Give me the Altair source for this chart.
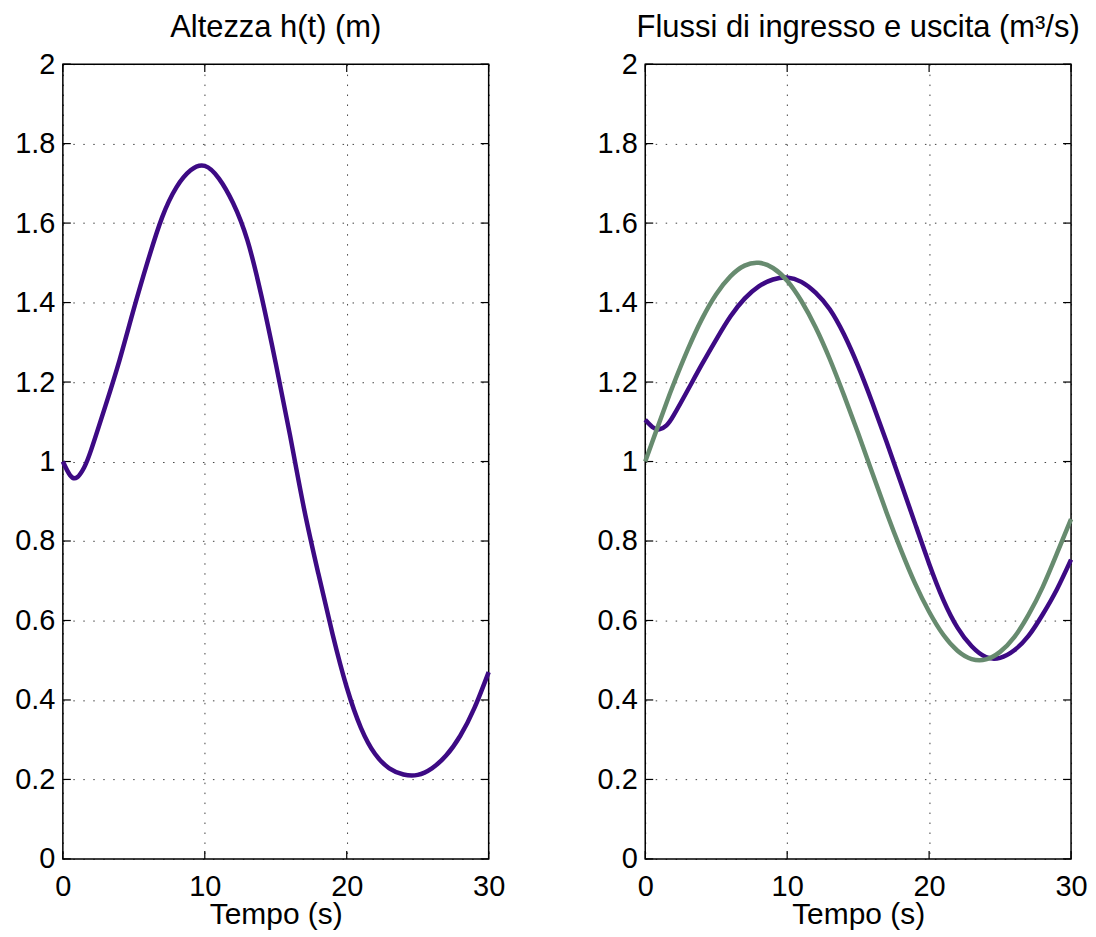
import altair as alt
import pandas as pd

# time samples (s)
t = [0, 0.5, 1, 1.5, 2, 3, 4, 5, 6, 7, 8, 9, 10, 11, 12, 13, 14, 15, 16,
     17, 18, 19, 20, 21, 22, 23, 24, 25, 26, 27, 28, 29, 30]

# height h(t) (m)
h = [1.0, 0.966, 0.96, 0.985, 1.03, 1.14, 1.256, 1.384, 1.506, 1.615, 1.69,
     1.733, 1.744, 1.712, 1.65, 1.557, 1.415, 1.247, 1.067, 0.88, 0.718, 0.566,
     0.432, 0.33, 0.264, 0.228, 0.2125, 0.2115, 0.228, 0.26, 0.31, 0.38, 0.47]

# outflow (m^3/s)
q_out = [1.105, 1.087, 1.081, 1.091, 1.116, 1.18, 1.245, 1.307, 1.365, 1.41,
         1.441, 1.458, 1.463, 1.452, 1.425, 1.383, 1.32, 1.24, 1.148, 1.05,
         0.948, 0.845, 0.743, 0.652, 0.582, 0.535, 0.508, 0.506, 0.525, 0.561,
         0.615, 0.678, 0.753]

# inflow (m^3/s)
q_in = [1.0, 1.05, 1.099, 1.148, 1.195, 1.282, 1.359, 1.421, 1.466, 1.493,
        1.5, 1.487, 1.455, 1.404, 1.338, 1.258, 1.167, 1.071, 0.971, 0.872,
        0.779, 0.694, 0.622, 0.564, 0.524, 0.503, 0.502, 0.521, 0.558, 0.614,
        0.684, 0.768, 0.855]

x_ticks = [0, 10, 20, 30]
y_ticks = [0, 0.2, 0.4, 0.6, 0.8, 1.0, 1.2, 1.4, 1.6, 1.8, 2.0]

title_left = "Altezza h(t) (m)"
title_right = "Flussi di ingresso e uscita (m³/s)"
x_title = "Tempo (s)"

W, H = 427, 797
TL = 8
PURPLE = "#3d0a84"
GREEN = "#678b6f"
FONT = "Liberation Sans"

df_h = pd.DataFrame({"t": t, "v": h})
df_out = pd.DataFrame({"t": t, "v": q_out})
df_in = pd.DataFrame({"t": t, "v": q_in})
df_xt = pd.DataFrame({"t": x_ticks})
df_yt = pd.DataFrame({"v": y_ticks})

xscale = alt.Scale(domain=[0, 30], nice=False, zero=False)
yscale = alt.Scale(domain=[0, 2], nice=False)

xaxis = alt.Axis(values=x_ticks, title=x_title, grid=True, ticks=False, tickSize=0,
                 domain=False, labelFlush=False, labelOverlap=False,
                 labelBaseline="alphabetic", labelPadding=37,
                 titleBaseline="alphabetic", titleY=65, titleFontSize=30,
                 titleFontWeight="normal", format="d")
yaxis = alt.Axis(values=y_ticks, title="", grid=True, ticks=False, tickSize=0,
                 domain=False, labelFlush=False, labelOverlap=False,
                 labelPadding=8, format=".1~f")

X = alt.X("t:Q", scale=xscale, axis=xaxis)
Y = alt.Y("v:Q", scale=yscale, axis=yaxis)


def panel(lines, title):
    layers = []
    for df, color in lines:
        layers.append(
            alt.Chart(df).mark_line(color=color, strokeWidth=4.5, interpolate="natural").encode(
                x=X, y=Y)
        )
    tick_left = alt.Chart(df_yt).mark_rule(color="black", strokeWidth=1.2).encode(
        y=Y, x=alt.value(0), x2=alt.value(TL))
    tick_right = alt.Chart(df_yt).mark_rule(color="black", strokeWidth=1.2).encode(
        y=Y, x=alt.value(W - TL), x2=alt.value(W))
    tick_top = alt.Chart(df_xt).mark_rule(color="black", strokeWidth=1.2).encode(
        x=X, y=alt.value(0), y2=alt.value(TL))
    tick_bot = alt.Chart(df_xt).mark_rule(color="black", strokeWidth=1.2).encode(
        x=X, y=alt.value(H - TL), y2=alt.value(H))
    return alt.layer(tick_left, tick_right, tick_top, tick_bot, *layers).properties(
        width=W, height=H,
        title=alt.TitleParams(title, fontSize=31, font=FONT, fontWeight="normal",
                              baseline="alphabetic", offset=-18, frame="group",
                              anchor="middle", color="black"),
    )


left = panel([(df_h, PURPLE)], title_left)
right = panel([(df_out, PURPLE), (df_in, GREEN)], title_right)

chart = alt.hconcat(left, right, spacing=157, bounds="flush").properties(
    padding={"left": 5, "top": 2, "right": 0, "bottom": 0}
).configure_view(
    stroke="black", strokeWidth=1.5
).configure_axis(
    labelFont=FONT, labelFontSize=29, labelColor="black",
    titleFont=FONT, titleColor="black",
    gridColor="#000000", gridOpacity=0.75, gridDash=[1.5, 8.5], gridWidth=1,
)

chart.save("out.html", embed_options={"renderer": "svg", "actions": False})
